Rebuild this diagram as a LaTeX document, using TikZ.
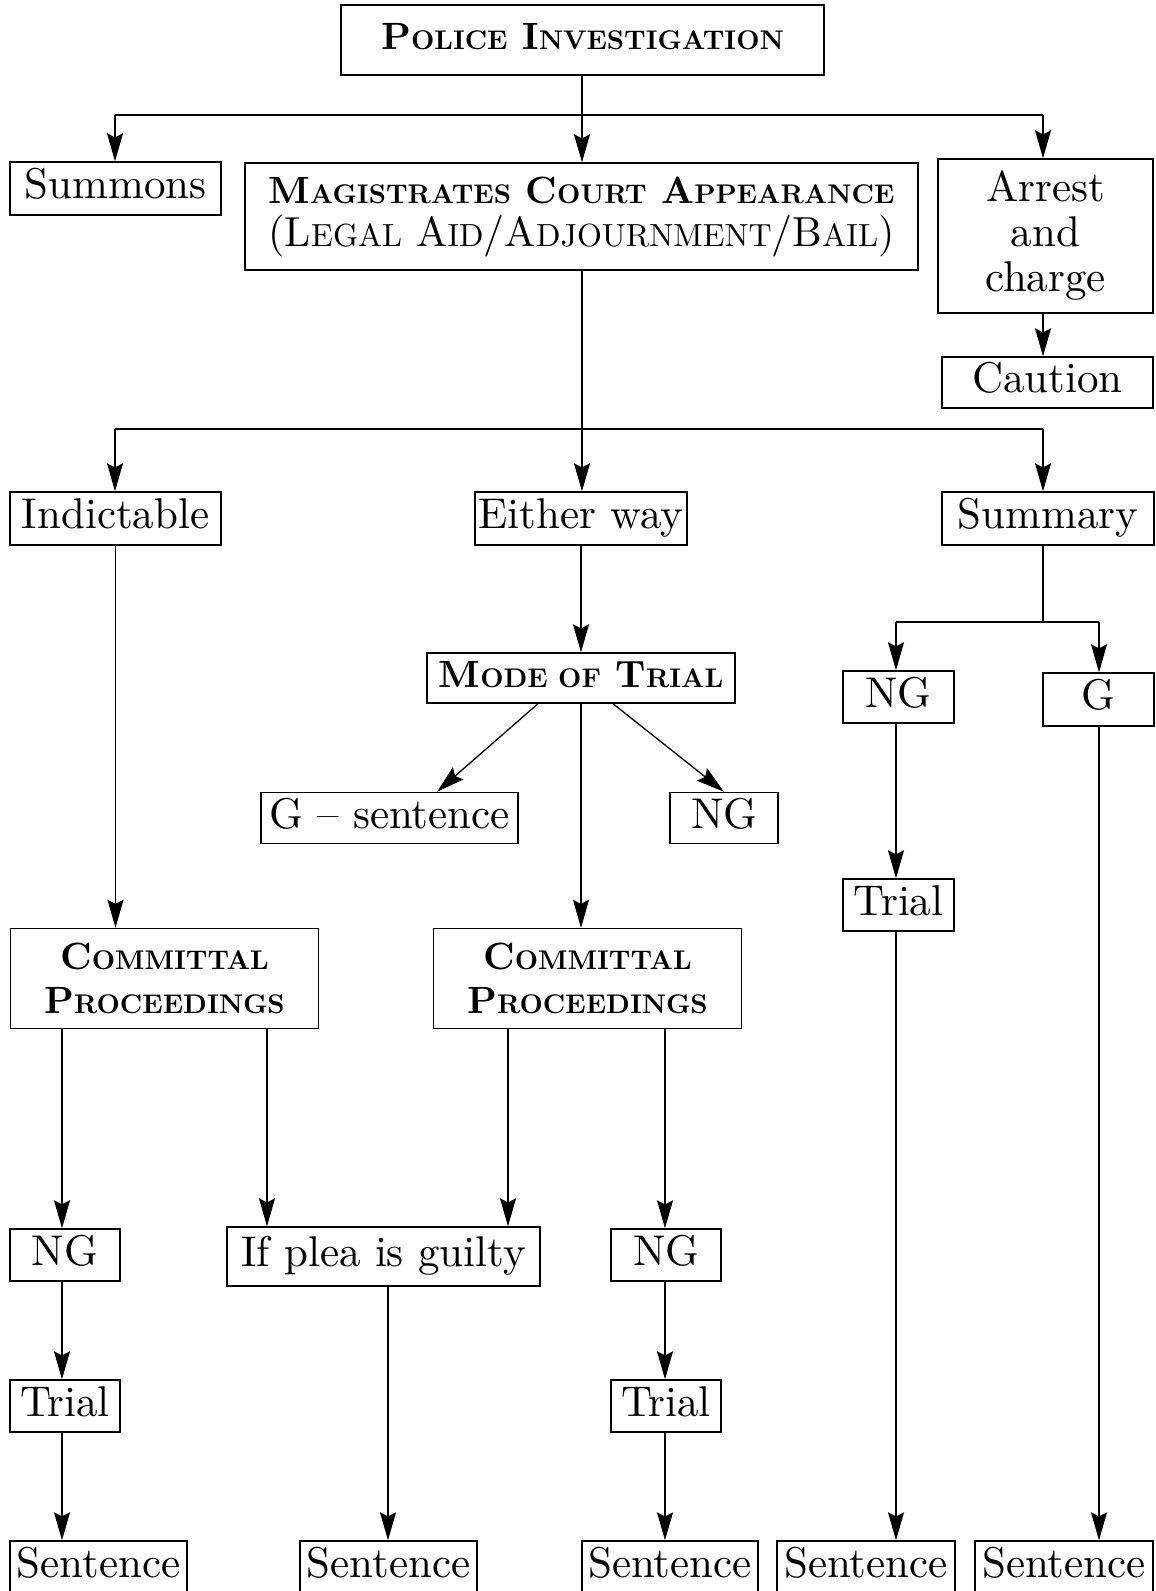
\documentclass[tikz,border=0pt]{standalone}
\usepackage{fontspec}
\setmainfont{lmroman10-regular}[Extension=.otf, BoldFont=lmroman10-bold,
  ItalicFont=lmroman10-italic, BoldItalicFont=lmroman10-bolditalic]
\usetikzlibrary{arrows.meta}
% small capitals set by hand: capital at full size, the rest in smaller capitals
\newcommand\bsc[1]{{\fontsize{27}{27}\selectfont #1}}
\newcommand\rsc[1]{{\fontsize{32}{32}\selectfont #1}}
\begin{document}
\begin{tikzpicture}[x=1pt,y=-1pt,
  box/.style={draw, line width=1.4pt, inner sep=0pt,
    font=\fontsize{43}{43}\selectfont, text height=30pt, text depth=10pt},
  multi/.style={draw, line width=1.4pt, inner sep=0pt, align=center},
  hd/.style={draw, line width=1.4pt, inner sep=0pt,
    font=\fontsize{38}{40}\selectfont\bfseries, text height=26pt, text depth=8pt},
  ln/.style={line width=1.3pt},
  arr/.style={line width=1.3pt, -{Stealth[length=28pt,width=16pt,inset=4pt]}}]
\clip (0,0) rectangle (1156,1591);
\fill[white] (0,0) rectangle (1156,1591);

% top level
\node[hd, minimum width=483, minimum height=70] (pol) at (582.5,40)
  {P\bsc{OLICE} I\bsc{NVESTIGATION}};
\node[box, minimum width=211, minimum height=53] (sum) at (115.5,188.5) {Summons};
\node[multi, font=\fontsize{38}{43}\selectfont\bfseries, minimum width=673, minimum height=107]
  (mag) at (581.5,216.5)
  {M\bsc{AGISTRATES} C\bsc{OURT} A\bsc{PPEARANCE}\\
   \fontsize{42}{43}\selectfont\mdseries (L\rsc{EGAL} A\rsc{ID}/A\rsc{DJOURNMENT}/B\rsc{AIL})};
\node[multi, font=\fontsize{43}{45}\selectfont, minimum width=215, minimum height=154]
  (arr) at (1045.5,236) {Arrest\\and\\charge};
\node[box, minimum width=211, minimum height=51] (cau) at (1047.5,382.5) {Caution};

% offence types
\node[box, minimum width=211, minimum height=53] (ind) at (115.5,518.5) {Indictable};
\node[box, minimum width=212, minimum height=53] (eit) at (581,518.5) {Either way};
\node[box, minimum width=212, minimum height=53] (smy) at (1048,518.5) {Summary};

% either way branch
\node[hd, minimum width=308, minimum height=50] (mod) at (581,678)
  {M\bsc{ODE OF} T\bsc{RIAL}};
\node[box, minimum width=257, minimum height=51] (gsn) at (389.5,818) {G -- sentence};
\node[box, minimum width=108, minimum height=51] (ngm) at (724,818) {NG};

% summary branch
\node[box, minimum width=111, minimum height=52] (ngs) at (898.5,697) {NG};
\node[box, minimum width=111, minimum height=53] (gg) at (1098.5,699.5) {G};
\node[box, minimum width=111, minimum height=52] (trs) at (898.5,905) {Trial};

% committal proceedings
\node[multi, font=\fontsize{38}{44}\selectfont\bfseries, minimum width=308, minimum height=100]
  (cpl) at (164.5,978.5) {C\bsc{OMMITTAL}\\P\bsc{ROCEEDINGS}};
\node[multi, font=\fontsize{38}{44}\selectfont\bfseries, minimum width=308, minimum height=100]
  (cpr) at (587.5,978.5) {C\bsc{OMMITTAL}\\P\bsc{ROCEEDINGS}};

\node[box, minimum width=110, minimum height=52] (ngl) at (65,1255) {NG};
\node[box, minimum width=313, minimum height=59] (ifp) at (383.5,1256.5) {If plea is guilty};
\node[box, minimum width=110, minimum height=52] (ngc) at (666,1255) {NG};
\node[box, minimum width=110, minimum height=52] (trl) at (65,1406) {Trial};
\node[box, minimum width=110, minimum height=52] (trc) at (666,1406) {Trial};

% sentences along the bottom
\node[box, minimum width=177, minimum height=53] (s1) at (98.5,1567.5) {Sentence};
\node[box, minimum width=177, minimum height=53] (s2) at (388.5,1567.5) {Sentence};
\node[box, minimum width=176, minimum height=53] (s3) at (670,1567.5) {Sentence};
\node[box, minimum width=178, minimum height=53] (s4) at (866,1567.5) {Sentence};
\node[box, minimum width=178, minimum height=53] (s5) at (1064,1567.5) {Sentence};

% junction points and columns
\coordinate (j1) at (582,115);
\coordinate (j1l) at (115,115);
\coordinate (j1r) at (1043,115);
\coordinate (j2) at (582,429);
\coordinate (j2l) at (115,429);
\coordinate (j2r) at (1043,429);
\coordinate (j3) at (1043,622);
\coordinate (j3l) at (896,622);
\coordinate (j3r) at (1099,622);
\coordinate (xa) at (62,0);
\coordinate (xb) at (267,0);
\coordinate (xc) at (508,0);
\coordinate (xd) at (665,0);
\coordinate (xe) at (388,0);

% police investigation fan-out
\draw[ln] (pol.south -| j1) -- (j1);
\draw[ln] (j1l) -- (j1r);
\draw[arr] (j1l) -- (j1l |- sum.north);
\draw[arr] (j1) -- (j1 |- mag.north);
\draw[arr] (j1r) -- (j1r |- arr.north);
\draw[arr] (arr.south -| j1r) -- (cau.north -| j1r);

% magistrates court fan-out
\draw[ln] (mag.south -| j2) -- (j2);
\draw[ln] (j2l) -- (j2r);
\draw[arr] (j2l) -- (j2l |- ind.north);
\draw[arr] (j2) -- (j2 |- eit.north);
\draw[arr] (j2r) -- (j2r |- smy.north);

% either way
\draw[arr] (eit.south -| mod.south) -- (mod.north);
\draw[arr] ([xshift=-43pt]mod.south) -- ([xshift=47.5pt]gsn.north);
\draw[arr] ([xshift=32pt]mod.south) -- (ngm.north);
\draw[arr] (mod.south) -- (cpr.north -| mod.south);

% summary
\draw[ln] (smy.south -| j3) -- (j3);
\draw[ln] (j3l) -- (j3r);
\draw[arr] (j3l) -- (j3l |- ngs.north);
\draw[arr] (j3r) -- (j3r |- gg.north);
\draw[arr] (ngs.south -| j3l) -- (trs.north -| j3l);
\draw[arr] (trs.south -| j3l) -- (s4.north -| j3l);
\draw[arr] (gg.south -| j3r) -- (s5.north -| j3r);

% indictable
\draw[arr] (ind.south) -- (ind.south |- cpl.north);

% committal proceedings outcomes
\draw[arr] (cpl.south -| xa) -- (ngl.north -| xa);
\draw[arr] (ngl.south -| xa) -- (trl.north -| xa);
\draw[arr] (trl.south -| xa) -- (s1.north -| xa);
\draw[arr] (cpl.south -| xb) -- (ifp.north -| xb);
\draw[arr] (cpr.south -| xc) -- (ifp.north -| xc);
\draw[arr] (cpr.south -| xd) -- (ngc.north -| xd);
\draw[arr] (ngc.south -| xd) -- (trc.north -| xd);
\draw[arr] (trc.south -| xd) -- (s3.north -| xd);
\draw[arr] (ifp.south -| xe) -- (s2.north -| xe);
\end{tikzpicture}
\end{document}
